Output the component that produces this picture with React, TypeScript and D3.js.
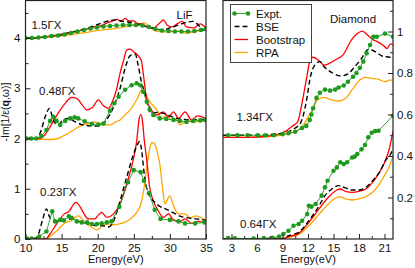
import React, { useEffect, useRef } from 'react';
import * as d3 from 'd3';

type Pt = [number, number];

// LiF, 0.23 GX (no offset)
const lifExpt023: Pt[] = [[10.2,0.01],[10.85,0.01],[11.9,0.05],[12.9,0.15],[13.7,0.55],[14.1,0.35],[14.8,0.38],[15.3,0.37],[16.0,0.45],[16.4,0.42],[17.1,0.35],[17.8,0.33],[18.55,0.33],[19.2,0.3],[19.9,0.3],[20.55,0.31],[21.25,0.33],[21.9,0.35],[23.0,0.64],[24.2,1.13],[25.0,1.37],[25.95,1.33],[26.4,1.16],[27.1,0.91],[27.9,0.58],[28.7,0.4],[30.0,0.38],[31.2,0.35],[32.1,0.31],[33.5,0.31],[34.8,0.33]];
const lifBse023: Pt[] = [[10,0],[11.3,0],[11.8,0.1],[12.4,0.4],[12.9,0.6],[13.3,0.45],[13.7,0.38],[14.5,0.36],[15.3,0.37],[16.4,0.4],[17.2,0.36],[18.0,0.33],[19.0,0.29],[19.7,0.27],[20.5,0.27],[21.5,0.24],[22.0,0.3],[22.4,0.43],[23.1,0.76],[24.0,1.22],[24.9,1.66],[25.4,1.85],[25.8,1.94],[26.1,1.75],[26.4,1.35],[26.8,1.0],[27.3,0.83],[28.0,0.72],[28.6,0.65],[29.4,0.6],[30.5,0.52],[31.5,0.45],[32.6,0.42],[33.7,0.4],[35,0.37]];
const lifBoot023: Pt[] = [[10,0],[12.8,0],[13.3,0.08],[14.3,0.3],[15.3,0.49],[16.1,0.56],[16.6,0.68],[17.0,0.73],[17.4,0.68],[17.8,0.58],[18.7,0.4],[19.6,0.4],[20.1,0.48],[20.55,0.53],[21.25,0.43],[22.2,0.5],[23.1,0.7],[24.0,1.09],[24.9,1.56],[25.4,1.95],[25.7,2.35],[25.95,2.48],[26.2,2.35],[26.45,1.97],[26.8,1.56],[27.2,1.03],[27.7,0.76],[28.4,0.56],[29.1,0.43],[29.8,0.5],[30.5,0.38],[31.4,0.35],[32.1,0.4],[33.0,0.31],[33.9,0.35],[35,0.31]];
const lifRpa023: Pt[] = [[10,0],[12.8,0],[13.5,0.06],[14.3,0.16],[15.0,0.26],[15.6,0.33],[16.3,0.36],[16.8,0.42],[17.3,0.46],[17.8,0.4],[18.2,0.33],[19.2,0.23],[19.9,0.18],[20.7,0.27],[21.4,0.3],[22.3,0.28],[23.0,0.3],[23.7,0.33],[24.5,0.4],[25.4,0.53],[26.1,0.76],[26.5,1.1],[26.8,1.43],[27.2,1.8],[27.5,1.92],[27.9,1.89],[28.3,1.7],[28.6,1.49],[29.0,1.0],[29.3,0.7],[29.7,0.8],[30.0,0.86],[30.5,0.66],[31.2,0.5],[32.1,0.5],[32.8,0.42],[33.7,0.46],[34.6,0.4],[35,0.38]];

// LiF, 0.48 GX (shifted by 2)
const lifExpt048: Pt[] = [[10.1,2.0],[10.8,2.0],[11.5,2.0],[12.2,2.05],[12.9,2.17],[13.4,2.35],[13.85,2.43],[14.3,2.35],[14.8,2.27],[15.5,2.35],[16.2,2.4],[16.8,2.42],[17.3,2.4],[18.2,2.34],[19.2,2.29],[20.1,2.28],[20.8,2.3],[21.7,2.55],[22.3,2.7],[22.9,2.83],[23.8,2.97],[24.7,3.06],[25.4,3.1],[25.9,3.06],[26.3,2.93],[26.8,2.73],[27.2,2.57],[27.7,2.47],[28.6,2.4],[29.5,2.39],[30.5,2.37],[31.4,2.35],[32.3,2.33],[33.2,2.35],[34.2,2.36],[34.9,2.37]];
const lifBse048: Pt[] = [[10,2.0],[11.5,2.0],[12.0,2.1],[12.9,2.5],[13.3,2.6],[13.85,2.37],[14.5,2.27],[15.2,2.37],[15.9,2.4],[16.9,2.33],[18.0,2.27],[19.4,2.25],[20.3,2.25],[21.2,2.37],[22.2,2.63],[23.1,3.0],[23.8,3.4],[24.5,3.65],[25.2,3.68],[25.6,3.46],[26.1,3.1],[26.55,2.9],[27.0,2.63],[27.5,2.5],[28.2,2.52],[29.1,2.5],[30.0,2.45],[30.9,2.4],[32.0,2.38],[33.0,2.37],[34.0,2.38],[35,2.38]];
const lifBoot048: Pt[] = [[10,2.0],[12.0,2.0],[12.6,2.06],[13.4,2.23],[14.5,2.5],[15.5,2.7],[16.4,2.82],[17.1,2.8],[17.8,2.68],[18.5,2.57],[19.3,2.62],[20.1,2.77],[20.8,2.65],[21.5,2.6],[22.0,2.72],[22.6,2.97],[23.1,3.3],[23.6,3.56],[24.0,3.76],[24.5,3.78],[25.0,3.72],[25.6,3.65],[26.05,3.55],[26.3,3.3],[26.8,2.77],[27.2,2.63],[28.2,2.47],[29.1,2.53],[29.8,2.43],[30.5,2.53],[31.2,2.4],[32.1,2.53],[33.0,2.37],[33.8,2.45],[34.6,2.42],[35,2.4]];
const lifRpa048: Pt[] = [[10,2.0],[13.5,1.98],[14.5,2.0],[15.2,2.05],[15.9,2.1],[17.0,2.2],[18.0,2.27],[18.5,2.29],[19.5,2.33],[20.2,2.3],[20.8,2.27],[21.7,2.27],[22.5,2.33],[23.1,2.37],[23.8,2.47],[24.5,2.57],[25.4,2.77],[26.1,2.97],[26.55,2.9],[27.2,2.73],[28.2,2.57],[28.9,2.4],[29.6,2.47],[30.2,2.37],[30.8,2.38],[31.4,2.27],[32.0,2.32],[32.7,2.35],[33.4,2.32],[34.2,2.35],[35,2.33]];

// LiF, 1.5 GX (shifted by 4)
const lifExpt15: Pt[] = [[10.0,4.0],[10.9,4.0],[11.8,4.01],[12.7,4.02],[13.6,4.04],[14.5,4.05],[15.4,4.07],[16.3,4.1],[17.2,4.13],[18.1,4.16],[19.0,4.19],[19.9,4.21],[20.8,4.23],[21.7,4.24],[22.6,4.25],[23.5,4.26],[24.4,4.26],[25.3,4.26],[26.2,4.25],[27.1,4.22],[28.0,4.18],[28.9,4.15],[29.8,4.14],[30.7,4.13],[31.6,4.13],[32.5,4.13],[33.4,4.14],[34.3,4.16],[35.0,4.19]];
const lifBse15: Pt[] = [[10,4.0],[12,4.01],[14,4.04],[16,4.1],[18,4.17],[19.5,4.24],[21,4.32],[22.5,4.36],[23.5,4.33],[25,4.3],[26,4.25],[27.5,4.2],[29,4.16],[30,4.2],[31,4.25],[32,4.3],[33.2,4.33],[34,4.25],[34.6,4.16],[35,4.18]];
const lifBoot15: Pt[] = [[10,4.0],[12,4.01],[14,4.05],[16,4.1],[18,4.16],[19.5,4.22],[20.6,4.25],[21.3,4.3],[21.9,4.33],[22.7,4.37],[23.2,4.33],[23.8,4.39],[24.3,4.34],[25.0,4.34],[25.5,4.29],[26.1,4.28],[26.8,4.23],[27.7,4.2],[28.6,4.3],[29.1,4.36],[29.6,4.26],[30.3,4.22],[31.0,4.28],[31.7,4.33],[32.3,4.22],[33.3,4.2],[34.2,4.28],[35,4.2]];
const lifRpa15: Pt[] = [[10,4.0],[12,4.01],[14,4.03],[16,4.06],[18,4.1],[20,4.15],[22,4.18],[24,4.23],[25.5,4.26],[26.5,4.3],[27.2,4.22],[28.0,4.14],[29.0,4.12],[30.0,4.12],[31.0,4.14],[32.0,4.1],[33.0,4.11],[34.0,4.14],[35,4.18]];

// Diamond, 1.34 GX (shifted by 0.5)
const diaExpt134: Pt[] = [[2.6,0.5],[3.7,0.5],[4.9,0.5],[6.1,0.5],[7.0,0.5],[8.0,0.5],[9.0,0.505],[9.7,0.51],[10.5,0.517],[11.3,0.535],[11.8,0.545],[12.2,0.574],[12.4,0.6],[12.6,0.63],[13.0,0.68],[13.4,0.705],[14.0,0.72],[14.6,0.715],[15.2,0.72],[15.6,0.73],[16.2,0.74],[16.7,0.758],[17.3,0.782],[17.7,0.8],[18.1,0.825],[18.5,0.855],[18.9,0.895],[19.3,0.935],[19.7,0.975],[20.1,0.975],[21.06,0.99],[22,0.975]];
const diaBse134: Pt[] = [[2,0.5],[5,0.5],[8,0.505],[9.5,0.515],[10.5,0.535],[11.1,0.557],[11.5,0.605],[11.9,0.685],[12.2,0.765],[12.8,0.838],[13.4,0.855],[13.9,0.83],[14.9,0.8],[15.9,0.786],[16.7,0.796],[17.5,0.83],[18.3,0.87],[19.1,0.914],[19.5,0.911],[20.1,0.898],[20.7,0.882],[21.7,0.875],[22,0.87]];
const diaBoot134: Pt[] = [[2,0.49],[5,0.49],[8,0.5],[9.4,0.52],[10.2,0.545],[10.8,0.565],[11.1,0.614],[11.5,0.7],[11.9,0.79],[12.2,0.855],[12.6,0.876],[13.2,0.863],[13.9,0.838],[14.5,0.846],[15.3,0.865],[16.1,0.886],[17.1,0.958],[17.8,0.99],[18.4,1.002],[19.0,0.983],[19.6,0.962],[20.2,0.95],[20.8,0.935],[21.3,0.918],[21.7,0.94],[22,0.935]];
const diaRpa134: Pt[] = [[2,0.49],[5,0.49],[8,0.495],[9.5,0.505],[10.5,0.517],[11.3,0.54],[11.9,0.58],[12.6,0.63],[13.1,0.67],[13.8,0.683],[14.6,0.673],[15.6,0.665],[16.4,0.677],[17.3,0.726],[18.1,0.766],[18.7,0.779],[19.5,0.774],[20.3,0.769],[21.1,0.758],[21.6,0.766],[22,0.766]];

// Diamond, 0.64 GX (no offset)
const diaExpt064: Pt[] = [[2.6,0.004],[3.4,0.003],[5.6,0.002],[6.8,0.004],[7.8,0.006],[8.6,0.012],[9.1,0.024],[9.7,0.04],[10.3,0.064],[10.9,0.072],[11.3,0.088],[11.9,0.12],[12.1,0.16],[12.4,0.156],[12.9,0.169],[13.6,0.209],[14.0,0.249],[14.3,0.281],[15.0,0.329],[15.4,0.345],[15.8,0.37],[16.2,0.361],[16.6,0.37],[17.2,0.393],[17.5,0.397],[17.8,0.41],[18.3,0.432],[18.7,0.453],[19.1,0.49],[19.5,0.512],[19.9,0.52],[20.3,0.522],[22,0.594]];
const diaBse064: Pt[] = [[2,0],[9,0.003],[9.7,0.016],[10.9,0.032],[12.1,0.088],[13.3,0.16],[14.0,0.209],[14.8,0.241],[15.6,0.257],[16.4,0.246],[17.2,0.236],[18.0,0.236],[18.8,0.249],[19.6,0.281],[20.4,0.321],[21.1,0.377],[21.9,0.426],[22,0.44]];
const diaBoot064: Pt[] = [[2,0],[9,0.002],[9.7,0.011],[10.9,0.027],[12.1,0.08],[13.3,0.145],[14.4,0.201],[15.4,0.236],[15.8,0.241],[16.4,0.23],[17.2,0.225],[18.0,0.23],[18.8,0.241],[19.6,0.273],[20.4,0.321],[21.1,0.377],[21.6,0.44],[22,0.52]];
const diaRpa064: Pt[] = [[2,0],[9,0.002],[9.7,0.008],[10.9,0.021],[12.1,0.064],[13.3,0.12],[14.4,0.169],[15.4,0.201],[15.8,0.204],[16.4,0.193],[17.2,0.188],[18.0,0.193],[18.8,0.204],[19.6,0.225],[20.4,0.265],[21.1,0.313],[21.6,0.353],[22,0.4]];

const lifXTicks = [10, 15, 20, 25, 30, 35];
const lifYTicks = [0, 1, 2, 3, 4];
const diaXTicks = [3, 6, 9, 12, 15, 18, 21];
const diaYTicks = [0.2, 0.4, 0.6, 0.8, 1];

const legendNames = ['Expt.', 'BSE', 'Bootstrap', 'RPA'];

const GREEN = '#1f9a1f';
const RED = '#ff0000';
const ORANGE = '#ffa500';
const FONT = '"Liberation Sans", Arial, sans-serif';

export default function App() {
    const ref = useRef<SVGSVGElement>(null);

    useEffect(() => {
        if (!ref.current) return;
        const svg = d3.select(ref.current);
        svg.selectAll('*').remove();

        const W = 415, H = 268;
        svg.attr('width', W).attr('height', H);

        const top = 0.5, bottom = 239;

        const xL = d3.scaleLinear().domain([10, 35]).range([25.5, 206]);
        const yL = d3.scaleLinear().domain([0, 4]).range([bottom, 38]);
        const xR = d3.scaleLinear().domain([2, 22]).range([223, 393]);
        const yR = d3.scaleLinear().domain([0, 1]).range([bottom, 31.5]);

        const defs = svg.append('defs');
        defs.append('clipPath').attr('id', 'clipL').append('rect')
            .attr('x', 25.5).attr('y', top).attr('width', 206 - 25.5).attr('height', bottom - top);
        defs.append('clipPath').attr('id', 'clipR').append('rect')
            .attr('x', 223).attr('y', top).attr('width', 393 - 223).attr('height', bottom - top);

        const drawSet = (
            clip: string,
            x: d3.ScaleLinear<number, number>,
            y: d3.ScaleLinear<number, number>,
            expt: Pt[], bse: Pt[], boot: Pt[], rpa: Pt[]
        ) => {
            const g = svg.append('g').attr('clip-path', `url(#${clip})`);
            const smooth = d3.line<Pt>().x(d => x(d[0])).y(d => y(d[1])).curve(d3.curveMonotoneX);
            const straight = d3.line<Pt>().x(d => x(d[0])).y(d => y(d[1]));
            g.append('path').attr('d', smooth(rpa)).attr('fill', 'none').attr('stroke', ORANGE).attr('stroke-width', 1.3);
            g.append('path').attr('d', smooth(boot)).attr('fill', 'none').attr('stroke', RED).attr('stroke-width', 1.3);
            g.append('path').attr('d', smooth(bse)).attr('fill', 'none').attr('stroke', '#000')
                .attr('stroke-width', 1.4).attr('stroke-dasharray', '5,3');
            g.append('path').attr('d', straight(expt)).attr('fill', 'none').attr('stroke', GREEN).attr('stroke-width', 0.9);
            g.selectAll(null).data(expt).enter().append('circle')
                .attr('cx', d => x(d[0])).attr('cy', d => y(d[1])).attr('r', 2.3).attr('fill', GREEN);
        };

        drawSet('clipL', xL, yL, lifExpt023, lifBse023, lifBoot023, lifRpa023);
        drawSet('clipL', xL, yL, lifExpt048, lifBse048, lifBoot048, lifRpa048);
        drawSet('clipL', xL, yL, lifExpt15, lifBse15, lifBoot15, lifRpa15);
        drawSet('clipR', xR, yR, diaExpt134, diaBse134, diaBoot134, diaRpa134);
        drawSet('clipR', xR, yR, diaExpt064, diaBse064, diaBoot064, diaRpa064);

        // frames
        svg.append('rect').attr('x', 25.5).attr('y', top).attr('width', 206 - 25.5).attr('height', bottom - top)
            .attr('fill', 'none').attr('stroke', '#222').attr('stroke-width', 1.2);
        svg.append('rect').attr('x', 223).attr('y', top).attr('width', 393 - 223).attr('height', bottom - top)
            .attr('fill', 'none').attr('stroke', '#222').attr('stroke-width', 1.2);

        const styleAxis = (g: d3.Selection<SVGGElement, unknown, null, undefined>) => {
            g.select('.domain').remove();
            g.selectAll('line').attr('stroke', '#222');
            g.selectAll('text').attr('font-family', FONT).attr('font-size', 11.5).attr('fill', '#111');
        };

        const fmt = (d: d3.NumberValue) => String(+d);

        // LiF axes
        svg.append('g').attr('transform', `translate(0,${bottom})`)
            .call(d3.axisBottom(xL).tickValues(lifXTicks).tickSize(-5).tickPadding(5).tickFormat(fmt))
            .call(styleAxis);
        svg.append('g').attr('transform', `translate(0,${bottom})`)
            .call(d3.axisBottom(xL).tickValues(d3.range(12.5, 35, 5)).tickSize(-3).tickFormat(() => ''))
            .call(styleAxis);
        svg.append('g').attr('transform', 'translate(25.5,0)')
            .call(d3.axisLeft(yL).tickValues(lifYTicks).tickSize(-5).tickPadding(5).tickFormat(fmt))
            .call(styleAxis);
        svg.append('g').attr('transform', 'translate(25.5,0)')
            .call(d3.axisLeft(yL).tickValues(d3.range(0.5, 4.7, 1)).tickSize(-3).tickFormat(() => ''))
            .call(styleAxis);

        // Diamond axes
        svg.append('g').attr('transform', `translate(0,${bottom})`)
            .call(d3.axisBottom(xR).tickValues(diaXTicks).tickSize(-5).tickPadding(5).tickFormat(fmt))
            .call(styleAxis);
        svg.append('g').attr('transform', `translate(0,${bottom})`)
            .call(d3.axisBottom(xR).tickValues(d3.range(4.5, 22, 3)).tickSize(-3).tickFormat(() => ''))
            .call(styleAxis);
        svg.append('g').attr('transform', 'translate(393,0)')
            .call(d3.axisRight(yR).tickValues(diaYTicks).tickSize(-5).tickPadding(4).tickFormat(fmt))
            .call(styleAxis);
        svg.append('g').attr('transform', 'translate(393,0)')
            .call(d3.axisRight(yR).tickValues(d3.range(0.1, 1.15, 0.2)).tickSize(-3).tickFormat(() => ''))
            .call(styleAxis);

        const text = (x: number, y: number, s: string, size = 11.5) =>
            svg.append('text').attr('x', x).attr('y', y).attr('font-family', FONT)
                .attr('font-size', size).attr('fill', '#111').text(s);

        text(176.5, 18.5, 'LiF');
        text(31.5, 29.3, '1.5ΓX');
        text(39, 95, '0.48ΓX');
        text(40, 195.5, '0.23ΓX');
        text(330, 22.7, 'Diamond');
        text(236.5, 120.7, '1.34ΓX');
        text(240, 228, '0.64ΓX');

        // x titles
        text((25.5 + 206) / 2, 263, 'Energy(eV)', 11).attr('text-anchor', 'middle');
        text((223 + 393) / 2, 263, 'Energy(eV)', 11).attr('text-anchor', 'middle');

        // y title
        const yt = svg.append('text').attr('transform', 'translate(9,112) rotate(-90)')
            .attr('text-anchor', 'middle').attr('font-family', FONT).attr('font-size', 10.5).attr('fill', '#111');
        yt.append('tspan').text('-Im[1/ε(');
        yt.append('tspan').attr('font-weight', 'bold').text('q');
        yt.append('tspan').text(',ω)]');

        // legend
        const lg = svg.append('g');
        lg.append('rect').attr('x', 230.5).attr('y', 4.5).attr('width', 81).attr('height', 58)
            .attr('fill', '#fff').attr('stroke', '#444').attr('stroke-width', 1);
        const rows = [13.5, 26.5, 39.5, 52.5];
        legendNames.forEach((name, i) => {
            const ly = rows[i];
            const ln = lg.append('line').attr('x1', 234.5).attr('x2', 248).attr('y1', ly).attr('y2', ly);
            if (i === 0) {
                ln.attr('stroke', GREEN).attr('stroke-width', 0.9);
                [234.5, 248].forEach(cx => lg.append('circle').attr('cx', cx).attr('cy', ly).attr('r', 2.3).attr('fill', GREEN));
            } else if (i === 1) {
                ln.attr('stroke', '#000').attr('stroke-width', 1.4).attr('stroke-dasharray', '5,3');
            } else {
                ln.attr('stroke', i === 2 ? RED : ORANGE).attr('stroke-width', 1.3);
            }
            lg.append('text').attr('x', 256).attr('y', ly + 4).attr('font-family', FONT)
                .attr('font-size', 11.5).attr('fill', '#111').text(name);
        });
    }, []);

    return <svg ref={ref} style={{ position: 'absolute', left: 0, top: 0 }} />;
}
